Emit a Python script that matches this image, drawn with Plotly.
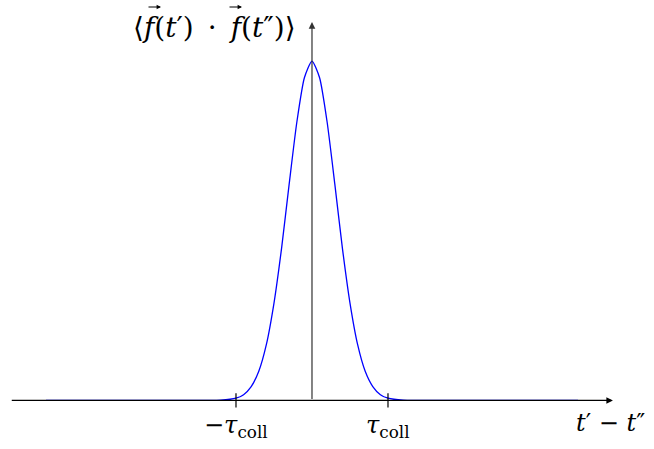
import plotly.graph_objects as go

# Correlation function of the random force, sampled in units of tau_coll
t_diff = [-3.5, -1.4, -1.2, -1.0, -0.9, -0.8, -0.7, -0.6, -0.5, -0.4, -0.3, -0.2, -0.1, 0.0,
          0.1, 0.2, 0.3, 0.4, 0.5, 0.6, 0.7, 0.8, 0.9, 1.0, 1.2, 1.4, 3.5]
corr = [0.0, 0.0001, 0.0007, 0.0067, 0.017, 0.041, 0.086, 0.165, 0.287, 0.449, 0.638, 0.819, 0.951, 1.0,
        0.951, 0.819, 0.638, 0.449, 0.287, 0.165, 0.086, 0.041, 0.017, 0.0067, 0.0007, 0.0001, 0.0]

tick_pos = [-1, 1]
tick_text = ["\u2212<i>\u03c4</i><sub>coll</sub>", "<i>\u03c4</i><sub>coll</sub>"]
x_label = "<i>t</i>\u2032 \u2212 <i>t</i>\u2033"
y_label = "\u27e8<i>f</i>(<i>t</i>\u2032)\u2002\u00b7\u2002<i>f</i>(<i>t</i>\u2033)\u27e9"

X_MIN, X_MAX = -4.105, 4.5
Y_MIN, Y_MAX = -0.143, 1.18
AX_LEFT, AX_RIGHT, AX_TOP = -3.97, 3.96, 1.115

FONT = "DejaVu Serif"


def px_to_data(px, py):
    """Convert a page pixel position to data coordinates (figure has no margins)."""
    x = X_MIN + px / 654 * (X_MAX - X_MIN)
    y = Y_MAX - py / 449 * (Y_MAX - Y_MIN)
    return x, y


fig = go.Figure()

fig.add_trace(go.Scatter(x=t_diff, y=corr, mode="lines",
                         line=dict(color="#0000ff", width=1.3, shape="spline", smoothing=0.6),
                         hoverinfo="skip", showlegend=False))

label_x, label_y = px_to_data(298, 27)
annotations = [
    # horizontal axis with arrow
    dict(x=AX_RIGHT, y=0, ax=AX_LEFT, ay=0, xref="x", yref="y", axref="x", ayref="y",
         showarrow=True, arrowhead=2, arrowsize=1.1, arrowwidth=1.2, arrowcolor="black", text=""),
    # vertical axis with arrow
    dict(x=0, y=AX_TOP, ax=0, ay=0, xref="x", yref="y", axref="x", ayref="y",
         showarrow=True, arrowhead=2, arrowsize=1.1, arrowwidth=1.2, arrowcolor="#333333", text=""),
    dict(x=4.41, y=-0.02, xref="x", yref="y", text=x_label, showarrow=False,
         xanchor="right", yanchor="top", font=dict(family=FONT, size=24, color="black")),
    dict(x=label_x, y=label_y, xref="x", yref="y", text=y_label, showarrow=False,
         xanchor="right", yanchor="middle", font=dict(family=FONT, size=28, color="black")),
]
# vector arrows over the two f symbols
for left_px in (147, 228):
    x0, y0 = px_to_data(left_px, 7)
    x1, _ = px_to_data(left_px + 14, 7)
    annotations.append(dict(x=x1, y=y0, ax=x0, ay=y0, xref="x", yref="y", axref="x", ayref="y",
                            showarrow=True, arrowhead=2, arrowsize=0.8, arrowwidth=1.1,
                            arrowcolor="black", text=""))
for p, txt in zip(tick_pos, tick_text):
    annotations.append(dict(x=p, y=-0.026, xref="x", yref="y", text=txt, showarrow=False,
                            xanchor="center", yanchor="top",
                            font=dict(family=FONT, size=24, color="black")))

shapes = [dict(type="line", xref="x", yref="y", x0=p, x1=p, y0=-0.021, y1=0.021,
               line=dict(color="black", width=1.2)) for p in tick_pos]

fig.update_layout(
    width=654, height=449,
    margin=dict(l=0, r=0, t=0, b=0),
    paper_bgcolor="white", plot_bgcolor="white",
    font=dict(family=FONT),
    xaxis=dict(range=[X_MIN, X_MAX], visible=False, fixedrange=True),
    yaxis=dict(range=[Y_MIN, Y_MAX], visible=False, fixedrange=True),
    annotations=annotations, shapes=shapes, showlegend=False,
)

fig.write_html("out.html")
